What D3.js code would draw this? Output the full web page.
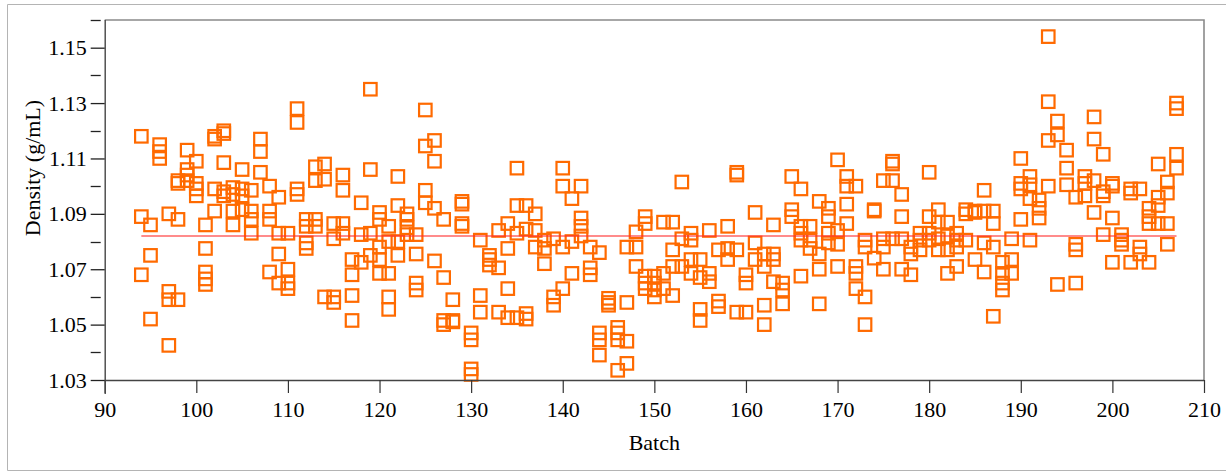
<!DOCTYPE html>
<html>
<head>
<meta charset="utf-8">
<script src="https://cdn.jsdelivr.net/npm/d3@7/dist/d3.min.js"></script>
<style>
  html, body { margin: 0; padding: 0; background: #fff; }
  svg { display: block; }
  text { font-family: "Liberation Serif", "Times New Roman", serif; fill: #000; }
</style>
</head>
<body>
<svg id="chart" width="1226" height="472"></svg>
<script>
// ---- data ----
const batches = [94,95,96,97,98,99,100,101,102,103,104,105,106,107,108,109,110,111,112,113,114,115,116,117,118,119,120,
  121,122,123,124,125,126,127,128,129,130,131,132,133,134,135,136,137,138,139,140,141,142,143,144,145,146,147,148,149,150,
  151,152,153,154,155,156,157,158,159,160,161,162,163,164,165,166,167,168,169,170,171,172,173,174,175,176,177,178,179,180,
  181,182,183,184,185,186,187,188,189,190,191,192,193,194,195,196,197,198,199,200,201,202,203,204,205,206,207];

const densityByBatch = [
  [1.118, 1.089, 1.068],
  [1.086, 1.075, 1.052],
  [1.115, 1.1125, 1.110],
  [1.090, 1.062, 1.059, 1.0425],
  [1.102, 1.101, 1.088, 1.059],
  [1.113, 1.106, 1.104, 1.102],
  [1.109, 1.101, 1.099, 1.0965],
  [1.086, 1.0775, 1.069, 1.0665, 1.0645],
  [1.117, 1.118, 1.099, 1.091],
  [1.119, 1.120, 1.1085, 1.098, 1.0965],
  [1.0995, 1.097, 1.091, 1.086],
  [1.106, 1.099, 1.0965, 1.0915],
  [1.0985, 1.091, 1.088, 1.083],
  [1.117, 1.1125, 1.105],
  [1.100, 1.091, 1.088, 1.069],
  [1.096, 1.083, 1.0755, 1.065],
  [1.083, 1.070, 1.065, 1.063],
  [1.128, 1.123, 1.099, 1.097],
  [1.088, 1.0855, 1.0795, 1.0775],
  [1.107, 1.102, 1.088, 1.0855],
  [1.108, 1.1025, 1.060],
  [1.0865, 1.081, 1.060, 1.058],
  [1.104, 1.0985, 1.0865, 1.083],
  [1.0735, 1.068, 1.0605, 1.0515],
  [1.094, 1.0825, 1.0725],
  [1.135, 1.106, 1.083, 1.075],
  [1.0905, 1.088, 1.078, 1.0735, 1.0685],
  [1.0855, 1.080, 1.0685, 1.060, 1.0555],
  [1.1035, 1.093, 1.080, 1.075],
  [1.090, 1.088, 1.085, 1.0825],
  [1.0825, 1.0755, 1.065, 1.0625],
  [1.1275, 1.1145, 1.0985, 1.094],
  [1.1165, 1.109, 1.092, 1.073],
  [1.088, 1.067, 1.0515, 1.050],
  [1.059, 1.0515, 1.051],
  [1.0945, 1.0935, 1.0865, 1.0855],
  [1.047, 1.0445, 1.034, 1.032],
  [1.0805, 1.0605, 1.0545],
  [1.075, 1.0735, 1.0715],
  [1.084, 1.0705, 1.0545],
  [1.0865, 1.0775, 1.063, 1.0525],
  [1.1065, 1.093, 1.083, 1.0525],
  [1.093, 1.0845, 1.054, 1.052],
  [1.090, 1.084, 1.078],
  [1.0805, 1.0775, 1.072],
  [1.081, 1.060, 1.057],
  [1.1065, 1.100, 1.078, 1.063],
  [1.0955, 1.080, 1.0685],
  [1.100, 1.0885, 1.0855, 1.082],
  [1.078, 1.0705, 1.068],
  [1.076, 1.047, 1.0445, 1.039],
  [1.0595, 1.058, 1.057],
  [1.049, 1.047, 1.0445, 1.0335],
  [1.078, 1.058, 1.044, 1.036],
  [1.0835, 1.078, 1.071],
  [1.089, 1.0865, 1.0675, 1.065, 1.063],
  [1.0675, 1.065, 1.0625, 1.060],
  [1.087, 1.0685, 1.063],
  [1.087, 1.077, 1.071, 1.0605],
  [1.1015, 1.081, 1.071],
  [1.083, 1.0805, 1.0735, 1.0685],
  [1.0735, 1.067, 1.0555, 1.0515],
  [1.084, 1.0685, 1.0655],
  [1.077, 1.0585, 1.0565],
  [1.0855, 1.0775, 1.0735],
  [1.105, 1.104, 1.077, 1.0545],
  [1.068, 1.065, 1.0545],
  [1.0905, 1.0795, 1.0735],
  [1.0755, 1.071, 1.057, 1.050],
  [1.086, 1.0755, 1.0735, 1.0655],
  [1.065, 1.0625, 1.0575],
  [1.1035, 1.0915, 1.089],
  [1.099, 1.0855, 1.083, 1.0805, 1.0675],
  [1.0855, 1.0805, 1.0775],
  [1.0945, 1.0755, 1.070, 1.0575],
  [1.092, 1.089, 1.083, 1.0795],
  [1.1095, 1.084, 1.079, 1.071],
  [1.1035, 1.100, 1.0935, 1.0865],
  [1.100, 1.071, 1.0685, 1.063],
  [1.0805, 1.078, 1.060, 1.050],
  [1.0915, 1.091, 1.074],
  [1.102, 1.081, 1.078, 1.070],
  [1.109, 1.108, 1.102, 1.081],
  [1.097, 1.089, 1.081, 1.070],
  [1.078, 1.0755, 1.068],
  [1.083, 1.0805, 1.077],
  [1.105, 1.089, 1.083, 1.0805],
  [1.0915, 1.087, 1.081, 1.077],
  [1.087, 1.082, 1.077, 1.0685],
  [1.083, 1.0805, 1.078, 1.071],
  [1.0915, 1.090, 1.0805],
  [1.091, 1.0905, 1.0735],
  [1.0985, 1.091, 1.0795, 1.069],
  [1.091, 1.0865, 1.078, 1.053],
  [1.0725, 1.0685, 1.065, 1.0625],
  [1.081, 1.0735, 1.0685],
  [1.110, 1.101, 1.099, 1.088],
  [1.1035, 1.1005, 1.0955, 1.0805],
  [1.095, 1.092, 1.0885],
  [1.154, 1.1305, 1.1165, 1.100],
  [1.1235, 1.1185, 1.0645],
  [1.113, 1.1065, 1.1005],
  [1.096, 1.079, 1.077, 1.065],
  [1.1035, 1.101, 1.0965],
  [1.125, 1.117, 1.102, 1.0905],
  [1.1115, 1.098, 1.0965, 1.0825],
  [1.101, 1.100, 1.0885, 1.0725],
  [1.0825, 1.0805, 1.079],
  [1.099, 1.0975, 1.0725],
  [1.099, 1.078, 1.0755],
  [1.092, 1.089, 1.0865, 1.0725],
  [1.108, 1.096, 1.093, 1.0865],
  [1.1015, 1.0975, 1.0865, 1.079],
  [1.130, 1.128, 1.1115, 1.1065]
];

const meanDensity = 1.082;
const xTickValues = [90, 100, 110, 120, 130, 140, 150, 160, 170, 180, 190, 200, 210];
const yMajorTicks = [1.03, 1.05, 1.07, 1.09, 1.11, 1.13, 1.15];
const yMinorTicks = [1.04, 1.06, 1.08, 1.10, 1.12, 1.14, 1.16];
const xTitle = "Batch";
const yTitle = "Density (g/mL)";

// ---- layout ----
const svg = d3.select("#chart");
const plot = { left: 104.7, right: 1204, top: 20, bottom: 380 };

const x = d3.scaleLinear().domain([90, 210]).range([plot.left, plot.right]);
const y = d3.scaleLinear().domain([1.03, 1.16]).range([plot.bottom, plot.top]);

// outer frame (open on the right)
svg.append("path")
  .attr("d", `M1226,4.5 H7.5 V470.5 H1226`)
  .attr("fill", "none").attr("stroke", "#b4b4b4").attr("stroke-width", 1);

// plot frame top / right
svg.append("path")
  .attr("d", `M${plot.left},${plot.top} H${plot.right} V${plot.bottom}`)
  .attr("fill", "none").attr("stroke", "#8a8a8a").attr("stroke-width", 1.6);

// points
const points = [];
batches.forEach((b, i) => densityByBatch[i].forEach(v => points.push({ b, v })));
const sq = 12.5;
svg.append("g").selectAll("rect").data(points).join("rect")
  .attr("x", d => x(d.b) - sq / 2)
  .attr("y", d => y(d.v) - sq / 2)
  .attr("width", sq).attr("height", sq)
  .attr("fill", "none")
  .attr("stroke", "#ff6a00")
  .attr("stroke-width", 2.2);

// mean line
svg.append("line")
  .attr("x1", x(d3.min(batches))).attr("x2", x(d3.max(batches)))
  .attr("y1", y(meanDensity)).attr("y2", y(meanDensity))
  .attr("stroke", "#ff3030").attr("stroke-opacity", 0.75).attr("stroke-width", 1.5);

// x axis
const xAxis = d3.axisBottom(x).tickValues(xTickValues).tickSize(13).tickPadding(8).tickFormat(d3.format("d"));
const gx = svg.append("g").attr("transform", `translate(0,${plot.bottom})`).call(xAxis);
gx.select(".domain").attr("stroke", "#444").attr("stroke-width", 1.4).attr("d", `M${plot.left},0.5H${plot.right}`);
gx.selectAll(".tick line").attr("stroke", "#333").attr("stroke-width", 1.2);
gx.selectAll(".tick text").attr("font-size", 22).attr("font-family", "Liberation Serif, serif").attr("fill", "#000");

// y axis
const yAxis = d3.axisLeft(y).tickValues(yMajorTicks).tickSize(14).tickPadding(4).tickFormat(d3.format(".2f"));
const gy = svg.append("g").attr("transform", `translate(${plot.left},0)`).call(yAxis);
gy.select(".domain").attr("stroke", "#444").attr("stroke-width", 1.4).attr("d", `M0.5,${plot.top}V${plot.bottom + 14}`);
gy.selectAll(".tick line").attr("stroke", "#222").attr("stroke-width", 1.3);
gy.selectAll(".tick text").attr("font-size", 22).attr("font-family", "Liberation Serif, serif").attr("fill", "#000");

// y minor ticks
svg.append("g").selectAll("line").data(yMinorTicks).join("line")
  .attr("x1", plot.left - 14).attr("x2", plot.left - 4)
  .attr("y1", d => Math.round(y(d)) + 0.5).attr("y2", d => Math.round(y(d)) + 0.5)
  .attr("stroke", "#222").attr("stroke-width", 1.3);

// titles
svg.append("text")
  .attr("x", (plot.left + plot.right) / 2).attr("y", 450)
  .attr("text-anchor", "middle").attr("font-size", 22)
  .text(xTitle);

svg.append("text")
  .attr("transform", `translate(40,168) rotate(-90)`)
  .attr("text-anchor", "middle").attr("font-size", 22)
  .text(yTitle);
</script>
</body>
</html>
